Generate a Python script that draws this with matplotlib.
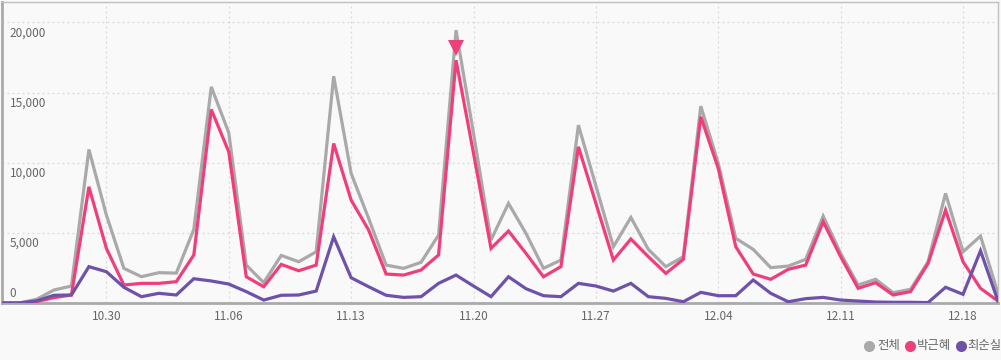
import matplotlib
matplotlib.use("Agg")
import matplotlib.pyplot as plt
from matplotlib.lines import Line2D
import matplotlib.transforms as mtransforms
import numpy as np
import pandas as pd

dates = pd.date_range("2016-10-24", "2016-12-20", freq="D")

total = [0, 0, 260, 925, 1210, 10940, 6265, 2470, 1875, 2160,
         2130, 5245, 15400, 12130, 2700, 1450, 3390, 2940, 3650, 16160,
         9230, 6030, 2700, 2470, 2900, 4840, 19440, 12080, 4490, 7100,
         4960, 2470, 3060, 12670, 8350, 4010, 6100, 3820, 2590, 3300,
         14030, 9950, 4610, 3820, 2520, 2630, 3110, 6190, 3540, 1280,
         1690, 735, 975, 2940, 7810, 3650, 4770, 690]

park = [0, 0, 100, 380, 570, 8280, 3890, 1280, 1400, 1400,
        1520, 3420, 13790, 10770, 1870, 1160, 2750, 2300, 2700, 11370,
        7330, 5200, 2065, 1990, 2350, 3420, 17300, 10660, 3890, 5130,
        3540, 1870, 2590, 11130, 7100, 3060, 4560, 3300, 2110, 3110,
        13270, 9590, 4010, 2065, 1690, 2400, 2700, 5790, 3300, 1045,
        1450, 570, 810, 2820, 6620, 2940, 1045, 140]

choi = [0, 0, 150, 550, 570, 2590, 2230, 1120, 450, 690,
        570, 1730, 1570, 1350, 810, 210, 550, 570, 850, 4720,
        1800, 1160, 550, 400, 450, 1400, 1990, 1210, 450, 1870,
        1020, 520, 450, 1400, 1210, 850, 1400, 450, 330, 90,
        760, 520, 520, 1640, 690, 90, 310, 400, 210, 140,
        70, 50, 50, 30, 1120, 620, 3720, 140]

series_names = ["전체", "박근혜", "최순실"]
tick_dates = ["2016-10-30", "2016-11-06", "2016-11-13", "2016-11-20",
              "2016-11-27", "2016-12-04", "2016-12-11", "2016-12-18"]
tick_labels = ["10.30", "11.06", "11.13", "11.20", "11.27", "12.04", "12.11", "12.18"]
y_ticks = [0, 5000, 10000, 15000, 20000]
y_labels = ["0", "5,000", "10,000", "15,000", "20,000"]

colors = ["#a9a9a9", "#f03e7d", "#6e52aa"]
bg = "#f9f9f9"

plt.rcParams['font.family'] = ['Noto Sans CJK KR', 'DejaVu Sans']

W, H = 1001, 360
fig = plt.figure(figsize=(W / 100, H / 100), dpi=100, facecolor=bg)
ax = fig.add_axes([0.0015, 1 - 303 / H, 0.9955, (303 - 2) / H])
ax.set_facecolor(bg)

x = np.arange(len(dates))
for vals, c, name in zip([total, park, choi], colors, series_names):
    ax.plot(x, vals, color=c, lw=2.3, label=name, solid_joinstyle="miter", zorder=3)

# max marker on 박근혜
imax = int(np.argmax(park))
mk, = ax.plot([imax], [park[imax]], marker="v", markersize=12, color=colors[1],
              zorder=5, linestyle="none", markeredgewidth=0)
mk.set_transform(ax.transData + mtransforms.ScaledTranslation(0, 12 / 100, fig.dpi_scale_trans))

ax.set_xlim(0, len(dates) - 1)
ax.set_ylim(0, 21450)

tick_pos = [int((pd.Timestamp(d) - dates[0]).days) for d in tick_dates]
ax.set_xticks(tick_pos)
ax.set_xticklabels(tick_labels, fontsize=8.5, color="#666666")
ax.tick_params(axis="x", length=0, pad=5)
ax.set_yticks(y_ticks)
ax.set_yticklabels([])
ax.tick_params(axis="y", length=0)
ax.grid(True, color="#d8d8d8", linestyle=(0, (1.5, 2.5)), lw=0.9, zorder=0)

for yv, lab in zip(y_ticks, y_labels):
    if yv == 0:
        ax.annotate(lab, xy=(0, yv), xycoords=("axes fraction", "data"),
                    xytext=(6, 2), textcoords="offset points",
                    ha="left", va="bottom", fontsize=8.5, color="#666666")
    else:
        ax.annotate(lab, xy=(0, yv), xycoords=("axes fraction", "data"),
                    xytext=(6, -3), textcoords="offset points",
                    ha="left", va="top", fontsize=8.5, color="#666666")

for s in ["top", "right"]:
    ax.spines[s].set_color("#c0c0c0")
    ax.spines[s].set_linewidth(1)
for s in ["left", "bottom"]:
    ax.spines[s].set_color("#aaaaaa")
    ax.spines[s].set_linewidth(2)

# legend (manual, bottom right)
leg_circle_x = [869, 910, 961]
leg_text_x = [877, 917, 967]
leg_y = 346
for cx, tx, c, name in zip(leg_circle_x, leg_text_x, colors, series_names):
    fig.add_artist(Line2D([cx / W], [1 - leg_y / H], marker="o", color="none",
                          markerfacecolor=c, markeredgecolor="none", markersize=8,
                          transform=fig.transFigure))
    fig.text(tx / W, 1 - leg_y / H, name, ha="left", va="center",
             fontsize=8.9, color="#666666")

fig.savefig("out.png", dpi=100, facecolor=bg)
